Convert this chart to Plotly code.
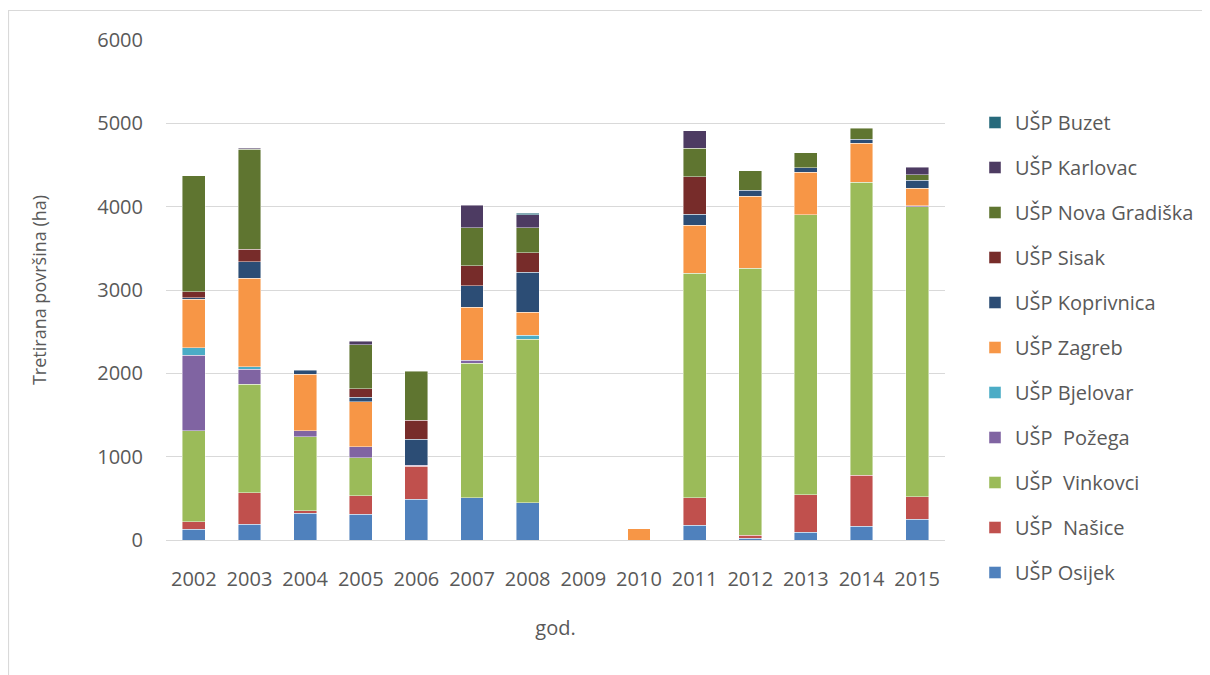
import plotly.graph_objects as go

years = ["2002", "2003", "2004", "2005", "2006", "2007", "2008",
         "2009", "2010", "2011", "2012", "2013", "2014", "2015"]

osijek       = [130, 190, 320, 310, 490, 510, 450, None, None, 175, 20, 95, 165, 250]
nasice       = [90, 380, 30, 220, 395, None, None, None, None, 335, 40, 450, 610, 270]
vinkovci     = [1090, 1300, 890, 460, None, 1610, 1960, None, None, 2690, 3200, 3360, 3520, 3480]
pozega       = [910, 180, 70, 130, 15, 35, None, None, None, None, None, None, None, 10]
bjelovar     = [90, 30, None, None, None, None, 45, None, None, None, None, None, None, None]
zagreb       = [580, 1060, 680, 540, None, 640, 280, None, 135, 580, 865, 510, 465, 210]
koprivnica   = [20, 200, 45, 55, 310, 255, 480, None, None, 130, 75, 50, 50, 95]
sisak        = [70, 150, None, 100, 225, 240, 235, None, None, 450, None, None, None, None]
nova_gradiska = [1390, 1200, None, 530, 590, 460, 295, None, None, 340, 230, 185, 130, 70]
karlovac     = [None, 10, None, 40, None, 270, 160, None, None, 210, None, None, None, 90]
buzet        = [None, None, None, None, None, None, 15, None, None, None, None, None, None, None]

series = [
    ("UŠP Osijek", osijek, "#4F81BD"),
    ("UŠP  Našice", nasice, "#C0504D"),
    ("UŠP  Vinkovci", vinkovci, "#9BBB59"),
    ("UŠP  Požega", pozega, "#8064A2"),
    ("UŠP Bjelovar", bjelovar, "#4BACC6"),
    ("UŠP Zagreb", zagreb, "#F79646"),
    ("UŠP Koprivnica", koprivnica, "#2C4D75"),
    ("UŠP Sisak", sisak, "#772C2A"),
    ("UŠP Nova Gradiška", nova_gradiska, "#5F7530"),
    ("UŠP Karlovac", karlovac, "#4D3B62"),
    ("UŠP Buzet", buzet, "#276A7C"),
]

FONT = "Open Sans"
TXT = "#595959"

fig = go.Figure()
n = len(series)
for i, (name, vals, col) in enumerate(series):
    fig.add_trace(go.Bar(
        x=years, y=vals, name=name, legendgroup=f"g{i}", legendrank=n - i,
        marker=dict(color=col, line=dict(color="rgba(255,255,255,0.55)", width=0.8)),
    ))

W, H = 1210, 675
L, R, T, B = 158, 273, 32, 143
pw = W - L - R
ph = H - T - B

fig.update_layout(
    width=W, height=H,
    barmode="stack", bargap=0.59,
    paper_bgcolor="white", plot_bgcolor="white",
    margin=dict(l=L, r=R, t=T, b=B, autoexpand=False),
    font=dict(family=FONT, color=TXT, size=20),
    showlegend=True,
    legend=dict(
        x=(967 - L) / pw, xanchor="left",
        y=1 - (95 - T) / ph, yanchor="top",
        traceorder="grouped",
        tracegroupgap=16,
        font=dict(family=FONT, size=20, color=TXT),
        itemwidth=30,
        bgcolor="rgba(0,0,0,0)",
    ),
    xaxis=dict(
        showgrid=False, showline=True, linecolor="#D9D9D9", linewidth=1.3,
        ticks="", tickfont=dict(family=FONT, size=20, color=TXT),
        ticklabelstandoff=21,
        title=dict(text="god.", font=dict(family=FONT, size=20, color=TXT), standoff=29),
    ),
    yaxis=dict(
        range=[0, 6000], dtick=1000, showgrid=True, gridcolor="#D9D9D9", gridwidth=1.3,
        zeroline=False, showline=False, ticks="",
        tickfont=dict(family=FONT, size=20, color=TXT),
        ticklabelstandoff=22,
        title=dict(text="Tretirana površina (ha)", font=dict(family=FONT, size=18, color=TXT), standoff=45),
    ),
    shapes=[dict(
        type="rect", xref="paper", yref="paper",
        x0=(0.5 - L) / pw, x1=(1230 - L) / pw,
        y0=1 - (700 - T) / ph, y1=1 - (2.5 - T) / ph,
        line=dict(color="#D9D9D9", width=1.2), fillcolor="rgba(0,0,0,0)", layer="below",
    )],
)

fig.write_html("out.html")
